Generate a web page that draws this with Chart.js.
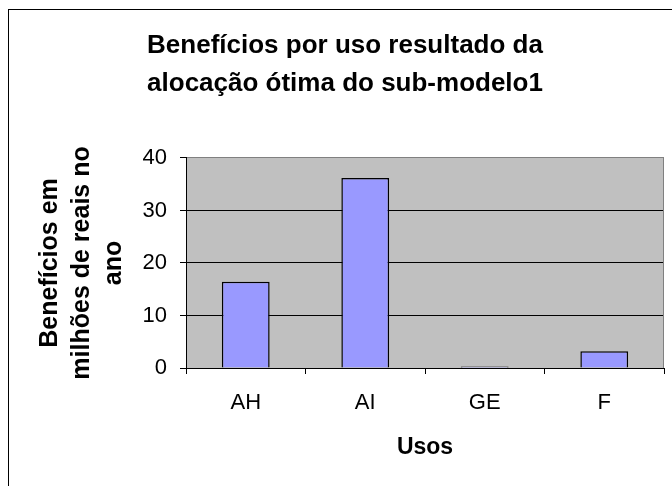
<!DOCTYPE html>
<html>
<head>
<meta charset="utf-8">
<script src="https://cdn.jsdelivr.net/npm/chart.js@4"></script>
<style>
  html, body { margin: 0; padding: 0; background: #fff; }
  #wrap { width: 672px; height: 486px; }
</style>
</head>
<body>
<div id="wrap"><canvas id="myBarChart" width="672" height="486"></canvas></div>
<script>
const usos = ["AH", "AI", "GE", "F"];
const beneficios = [16.4, 36.2, 0.3, 3.2];
const yTicks = [0, 10, 20, 30, 40];

const font = "'Liberation Sans', Arial, sans-serif";

// gray plot area, gray right border and the outer chart frame
const frame = {
  id: 'frame',
  beforeDraw(chart) {
    const { ctx, chartArea: a } = chart;
    ctx.save();
    ctx.fillStyle = '#fff';
    ctx.fillRect(0, 0, chart.width, chart.height);
    ctx.fillStyle = '#c0c0c0';
    ctx.fillRect(a.left, a.top, a.right - a.left, a.bottom - a.top);
    ctx.strokeStyle = '#000';
    ctx.lineWidth = 1;
    ctx.strokeRect(8.5, 9.5, 800, 600);
    ctx.restore();
  },
  beforeDatasetsDraw(chart) {
    const { ctx, chartArea: a } = chart;
    ctx.save();
    ctx.strokeStyle = '#808080';
    ctx.lineWidth = 1;
    ctx.beginPath();
    ctx.moveTo(Math.round(a.right) - 0.5, a.top);
    ctx.lineTo(Math.round(a.right) - 0.5, a.bottom);
    ctx.stroke();
    ctx.restore();
  }
};

new Chart(document.getElementById('myBarChart'), {
  type: 'bar',
  data: {
    labels: usos,
    datasets: [{
      data: beneficios,
      backgroundColor: '#9999ff',
      borderColor: '#000',
      borderWidth: 1.5,
      barPercentage: 0.4,
      categoryPercentage: 1
    }]
  },
  options: {
    responsive: false,
    animation: false,
    layout: { padding: { left: 26, right: 8, top: 0, bottom: 0 } },
    scales: {
      x: {
        afterFit: (s) => { s.height = 118; },
        grid: {
          drawOnChartArea: false,
          tickLength: 6,
          color: '#000',
          offset: true
        },
        border: { color: '#000', width: 1 },
        ticks: {
          color: '#000',
          padding: 16,
          font: { family: font, size: 22 }
        },
        title: {
          display: true,
          text: 'Usos',
          color: '#000',
          font: { family: font, size: 23, weight: 'bold' },
          padding: { top: 0, bottom: 25 }
        }
      },
      y: {
        min: 0,
        max: 40,
        afterFit: (s) => { s.width = 160; },
        afterBuildTicks: (s) => { s.ticks = yTicks.map(v => ({ value: v })); },
        grid: {
          color: (c) => c.tick && c.tick.value === 40 ? '#808080' : '#000',
          tickColor: '#000',
          tickLength: 6
        },
        border: { color: '#000', width: 1 },
        ticks: {
          color: '#000',
          padding: 13,
          font: { family: font, size: 22 }
        },
        title: {
          display: true,
          text: ['Benefícios em', 'milhões de reais no', 'ano'],
          color: '#000',
          font: { family: font, size: 25, weight: 'bold', lineHeight: 1.28 },
          padding: { top: 8, bottom: 0 }
        }
      }
    },
    plugins: {
      legend: { display: false },
      tooltip: { enabled: false },
      title: {
        display: true,
        text: ['Benefícios por uso resultado da', 'alocação ótima do sub-modelo1'],
        color: '#000',
        font: { family: font, size: 26, weight: 'bold', lineHeight: 1.46 },
        padding: { top: 27, bottom: 55 }
      }
    }
  },
  plugins: [frame]
});
</script>
</body>
</html>
